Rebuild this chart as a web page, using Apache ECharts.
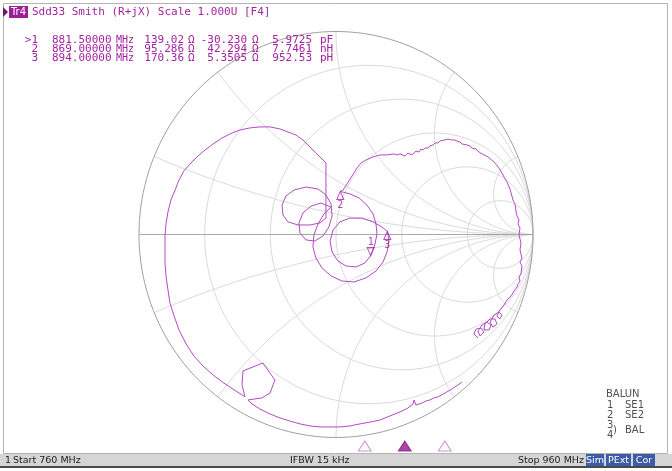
<!DOCTYPE html>
<html><head><meta charset="utf-8">
<script src="https://cdn.jsdelivr.net/npm/echarts@6/dist/echarts.min.js"></script>
<style>html,body{margin:0;padding:0;background:#fff}#c{width:672px;height:471px}</style>
</head><body><div id="c"></div>
<script>
// Sdd33 reflection coefficient (real / imaginary), sweep 760 -> 960 MHz
const traceRe = [0.721,0.700,0.711,0.736,0.751,0.731,0.721,0.741,0.766,0.787,0.777,0.751,0.756,0.782,0.807,0.817,0.797,0.782,0.802,0.827,0.843,0.832,0.817,0.832,0.853,0.868,0.878,0.893,0.904,0.919,0.924,0.934,0.929,0.939,0.944,0.934,0.944,0.934,0.939,0.929,0.934,0.924,0.929,0.919,0.914,0.909,0.898,0.893,0.883,0.868,0.858,0.848,0.827,0.802,0.772,0.751,0.741,0.726,0.711,0.690,0.680,0.665,0.655,0.640,0.629,0.614,0.599,0.584,0.569,0.553,0.543,0.528,0.518,0.503,0.492,0.477,0.467,0.452,0.442,0.431,0.421,0.406,0.386,0.365,0.350,0.325,0.310,0.294,0.259,0.223,0.188,0.152,0.127,0.107,0.081,0.056,0.036,0.022,0.071,0.117,0.157,0.188,0.203,0.208,0.198,0.176,0.147,0.102,0.051,0.010,-0.020,-0.030,-0.015,0.020,0.071,0.132,0.188,0.233,0.261,0.269,0.259,0.239,0.203,0.152,0.091,0.030,-0.025,-0.071,-0.102,-0.117,-0.112,-0.091,-0.061,-0.025,-0.076,-0.127,-0.168,-0.188,-0.183,-0.152,-0.107,-0.066,-0.036,-0.020,-0.025,-0.051,-0.091,-0.152,-0.213,-0.254,-0.274,-0.269,-0.244,-0.193,-0.132,-0.081,-0.051,-0.051,-0.051,-0.051,-0.051,-0.076,-0.102,-0.132,-0.162,-0.203,-0.244,-0.284,-0.335,-0.386,-0.437,-0.487,-0.528,-0.579,-0.624,-0.665,-0.706,-0.741,-0.772,-0.797,-0.817,-0.838,-0.853,-0.863,-0.868,-0.868,-0.868,-0.863,-0.853,-0.843,-0.822,-0.797,-0.761,-0.721,-0.675,-0.624,-0.569,-0.508,-0.462,-0.477,-0.472,-0.371,-0.310,-0.335,-0.376,-0.447,-0.426,-0.386,-0.335,-0.284,-0.234,-0.183,-0.132,-0.081,-0.030,0.020,0.071,0.122,0.173,0.223,0.274,0.325,0.365,0.391,0.396,0.406,0.406,0.437,0.457,0.477,0.497,0.518,0.553,0.589,0.619,0.640];
const traceIm = [-0.510,-0.490,-0.466,-0.461,-0.480,-0.500,-0.475,-0.446,-0.431,-0.446,-0.470,-0.470,-0.441,-0.416,-0.416,-0.441,-0.456,-0.431,-0.397,-0.382,-0.397,-0.416,-0.401,-0.372,-0.347,-0.323,-0.318,-0.298,-0.278,-0.259,-0.244,-0.229,-0.210,-0.195,-0.155,-0.135,-0.116,-0.076,-0.042,-0.002,0.032,0.052,0.071,0.091,0.111,0.150,0.170,0.190,0.224,0.259,0.274,0.293,0.328,0.357,0.382,0.392,0.401,0.406,0.421,0.426,0.436,0.441,0.446,0.446,0.456,0.461,0.466,0.466,0.470,0.466,0.461,0.461,0.451,0.451,0.441,0.436,0.426,0.426,0.416,0.421,0.406,0.411,0.392,0.401,0.387,0.397,0.392,0.397,0.392,0.392,0.382,0.367,0.352,0.328,0.288,0.249,0.219,0.212,0.200,0.180,0.145,0.101,0.052,0.002,-0.047,-0.104,-0.140,-0.160,-0.155,-0.131,-0.086,-0.032,0.022,0.062,0.081,0.081,0.062,0.037,0.015,-0.032,-0.086,-0.135,-0.180,-0.214,-0.234,-0.229,-0.204,-0.165,-0.116,-0.062,-0.002,0.052,0.101,0.135,0.155,0.140,0.106,0.057,0.007,-0.027,-0.032,-0.007,0.037,0.091,0.150,0.195,0.224,0.234,0.219,0.190,0.145,0.096,0.062,0.047,0.047,0.057,0.081,0.145,0.219,0.293,0.352,0.377,0.401,0.431,0.461,0.490,0.505,0.520,0.530,0.530,0.525,0.515,0.500,0.475,0.446,0.416,0.382,0.347,0.313,0.268,0.219,0.170,0.111,0.052,-0.007,-0.076,-0.140,-0.204,-0.273,-0.337,-0.401,-0.470,-0.539,-0.599,-0.648,-0.692,-0.732,-0.771,-0.800,-0.741,-0.672,-0.633,-0.717,-0.781,-0.805,-0.815,-0.835,-0.860,-0.884,-0.904,-0.919,-0.933,-0.943,-0.948,-0.948,-0.948,-0.943,-0.933,-0.924,-0.914,-0.894,-0.874,-0.855,-0.835,-0.815,-0.820,-0.840,-0.830,-0.820,-0.815,-0.805,-0.800,-0.781,-0.761,-0.741,-0.727];

// markers
const markerNames = ['1', '2', '3'];
const markerFreqMHz = [881.5, 869, 894];
const markerR = [139.02, 95.286, 170.36];
const markerX = [-30.230, 42.294, 5.3505];
const markerLC = ['5.9725', '7.7461', '952.53'];
const markerLCUnit = ['pF', 'nH', 'pH'];
const activeMarker = 0;
const z0 = 100;

// Smith grid
const rCircles = [0.2, 0.5, 1, 2, 5];
const xArcs = [0.2, 0.5, 1, 2, 5];

// sweep
const startMHz = 760, stopMHz = 960;

const purple = '#a3239f';
const traceColor = '#b04cc2';
const gridColor = '#dadada';

function zToGamma(r, x) {
  const den = (r + 1) * (r + 1) + x * x;
  return [(r * r + x * x - 1) / den, 2 * x / den];
}

function circlePts(cx, cy, rad) {
  const pts = [];
  for (let a = 0; a <= 360; a += 2) {
    const t = a * Math.PI / 180;
    pts.push([cx + rad * Math.cos(t), cy + rad * Math.sin(t)]);
  }
  return pts;
}

function arcPts(x) {
  const pts = [];
  for (let i = 0; i < 200; i++) {
    const t = i / 200;
    const r = Math.tan(t * Math.PI / 2);
    pts.push(zToGamma(r, x));
  }
  pts.push([1, 0]);
  return pts;
}

const lineBase = { type: 'line', symbol: 'none', silent: true, animation: false, xAxisIndex: 0, yAxisIndex: 0 };
const series = [];
rCircles.forEach(r => {
  series.push(Object.assign({}, lineBase, {
    data: circlePts(r / (r + 1), 0, 1 / (r + 1)),
    lineStyle: { color: gridColor, width: 1 }, z: 1
  }));
});
xArcs.forEach(x => {
  [x, -x].forEach(v => series.push(Object.assign({}, lineBase, {
    data: arcPts(v), lineStyle: { color: gridColor, width: 1 }, z: 1
  })));
});
series.push(Object.assign({}, lineBase, {
  data: [[-1, 0], [1, 0]], lineStyle: { color: '#a9a9a9', width: 1 }, z: 2
}));
series.push(Object.assign({}, lineBase, {
  data: circlePts(0, 0, 1), lineStyle: { color: '#a0a0a0', width: 1 }, z: 2
}));

// measured trace
series.push(Object.assign({}, lineBase, {
  data: traceRe.map((v, i) => [v, traceIm[i]]),
  lineStyle: { color: traceColor, width: 1 }, z: 5
}));

// marker symbols on the chart
const markerGamma = markerR.map((r, i) => zToGamma(r / z0, markerX[i] / z0));
markerGamma.forEach((g, i) => {
  const down = i === activeMarker;
  series.push({
    type: 'scatter', silent: true, animation: false, z: 6,
    data: [g],
    symbol: 'triangle', symbolSize: [7, 8],
    symbolRotate: down ? 180 : 0,
    symbolOffset: [0, down ? -4 : 4],
    itemStyle: { color: 'rgba(255,255,255,0)', borderColor: purple, borderWidth: 1 },
    label: {
      show: true, formatter: markerNames[i], position: down ? 'top' : 'bottom', distance: 0,
      color: purple, fontFamily: 'DejaVu Sans Mono', fontSize: 10
    }
  });
});

// marker positions along the sweep
series.push({
  type: 'scatter', silent: true, animation: false, xAxisIndex: 1, yAxisIndex: 1, z: 6,
  data: markerFreqMHz.map((f, i) => ({
    value: [f, 0.5],
    itemStyle: i === activeMarker
      ? { color: '#8e1a8c', borderColor: '#8e1a8c', borderWidth: 1 }
      : { color: '#ffffff', borderColor: '#c07ac8', borderWidth: 1 }
  })),
  symbol: 'triangle', symbolSize: [13, 10]
});

// text overlays
const mono = 'DejaVu Sans Mono';
const graphics = [];
function txt(text, x, y, opts) {
  graphics.push({
    type: 'text', silent: true, z: 20,
    style: Object.assign({
      text, x, y, fill: purple, font: '11px "' + mono + '"',
      textAlign: 'left', textVerticalAlign: 'middle'
    }, opts || {})
  });
}

graphics.push({ type: 'rect', silent: true, z: 0,
  shape: { x: 3.5, y: 3.5, width: 664, height: 450 },
  style: { fill: 'none', stroke: '#b4b4b4', lineWidth: 1 } });
graphics.push({ type: 'polygon', silent: true, z: 20,
  shape: { points: [[3, 7], [8, 12], [3, 17]] }, style: { fill: '#6e156c' } });
graphics.push({ type: 'rect', silent: true, z: 20,
  shape: { x: 9, y: 6, width: 19, height: 12 }, style: { fill: '#9a1f98' } });
txt('Tr4', 18.5, 12.5, { fill: '#ffffff', textAlign: 'center', font: '10px "DejaVu Sans"' });
txt('Sdd33 Smith (R+jX) Scale 1.000U [F4]', 32, 12.5);

markerNames.forEach((n, i) => {
  const y = 40 + i * 9;
  txt((i === activeMarker ? '>' : '') + n, 38, y, { textAlign: 'right' });
  txt(markerFreqMHz[i].toFixed(5), 52, y);
  txt('MHz', 116, y, { font: '10px "' + mono + '"' });
  txt(markerR[i].toPrecision(5), 184, y, { textAlign: 'right' });
  txt('\u03A9', 188, y);
  txt(markerX[i].toPrecision(5), 247, y, { textAlign: 'right' });
  txt('\u03A9', 252, y);
  txt(markerLC[i], 312, y, { textAlign: 'right' });
  txt(markerLCUnit[i], 320, y);
});

// fixture legend
const legGrey = '#505050';
const sans = '10px "DejaVu Sans"';
txt('BALUN', 606, 394, { fill: legGrey, font: sans });
txt('1', 607, 405, { fill: legGrey, font: sans });
txt('SE1', 625, 405, { fill: legGrey, font: sans });
txt('2', 607, 415, { fill: legGrey, font: sans });
txt('SE2', 625, 415, { fill: legGrey, font: sans });
txt('3', 607, 425, { fill: legGrey, font: sans });
txt('4', 607, 435, { fill: legGrey, font: sans });
txt(')', 613, 430, { fill: legGrey, font: sans });
txt('BAL', 625, 430, { fill: legGrey, font: sans });

// status bar
graphics.push({ type: 'rect', silent: true, z: 20,
  shape: { x: 0, y: 454, width: 672, height: 12 }, style: { fill: '#d5d5d5' } });
graphics.push({ type: 'rect', silent: true, z: 20,
  shape: { x: 0, y: 466, width: 672, height: 2 }, style: { fill: '#4a4a4a' } });
const barFont = '9.5px "DejaVu Sans"';
txt('1', 5, 460.5, { fill: '#222', font: barFont });
txt('Start ' + startMHz + ' MHz', 13, 460.5, { fill: '#222', font: barFont });
txt('IFBW 15 kHz', 290, 460.5, { fill: '#222', font: barFont });
txt('Stop ' + stopMHz + ' MHz', 584, 460.5, { fill: '#222', font: barFont, textAlign: 'right' });
[['Sim', 586, 18], ['PExt', 606, 25], ['Cor', 633, 22]].forEach(([t, x, w]) => {
  graphics.push({ type: 'rect', silent: true, z: 21,
    shape: { x, y: 454, width: w, height: 12 }, style: { fill: '#3d5ca8' } });
  txt(t, x + w / 2, 460.5, { fill: '#ffffff', font: barFont, textAlign: 'center' });
});
graphics.forEach(g => { if (g.type === 'text') g.z = 22; });

const chart = echarts.init(document.getElementById('c'), null, { renderer: 'canvas' });
chart.setOption({
  animation: false,
  backgroundColor: '#ffffff',
  grid: [
    { left: 139, top: 31.5, width: 394, height: 406, show: false },
    { left: 16, top: 441, width: 640, height: 10, show: false }
  ],
  xAxis: [
    { type: 'value', min: -1, max: 1, show: false, gridIndex: 0 },
    { type: 'value', min: startMHz, max: stopMHz, show: false, gridIndex: 1 }
  ],
  yAxis: [
    { type: 'value', min: -1, max: 1, show: false, gridIndex: 0 },
    { type: 'value', min: 0, max: 1, show: false, gridIndex: 1 }
  ],
  series,
  graphic: { elements: graphics }
});
</script>
</body></html>
